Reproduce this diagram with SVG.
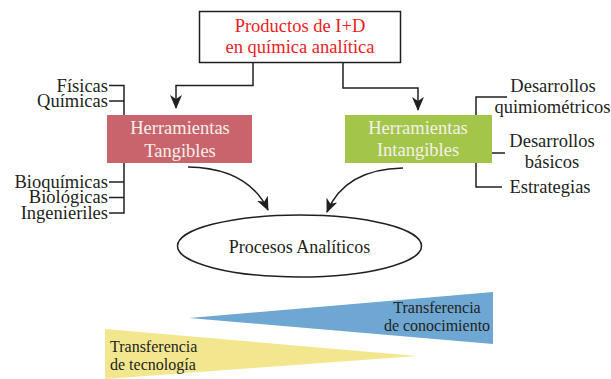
<svg xmlns="http://www.w3.org/2000/svg" width="611" height="379" viewBox="0 0 611 379">
<defs>
<marker id="ah" viewBox="0 0 14 12" refX="13" refY="6" markerWidth="14" markerHeight="12" markerUnits="userSpaceOnUse" orient="auto">
<path d="M0,0 L14,6 L0,12 L4,6 Z" fill="#231f20"/>
</marker>
</defs>
<style>
.ln{fill:none;stroke:#231f20;stroke-width:1.5;}
</style>
<rect width="611" height="379" fill="#ffffff"/>
<g id="connectors">
<path class="ln" d="M253,62 V85.5 H176 V108" marker-end="url(#ah)"/>
<path class="ln" d="M343,62 V88 H418 V110" marker-end="url(#ah)"/>
<path class="ln" d="M188,167 Q248,168 268,210" marker-end="url(#ah)"/>
<path class="ln" d="M403,168 Q345,169 327,212" marker-end="url(#ah)"/>
<path class="ln" d="M109,85.5 H124 V213 H109 M109,101 H124 M109,182 H124 M109,197.5 H124"/>
<path class="ln" d="M507,97 H476 V187 H502 M492,153 H505"/>
</g>
<g font-family="'Liberation Serif', 'Times New Roman', serif" font-size="18.5">
<g id="productos">
<rect x="199.5" y="11.5" width="201" height="51" fill="#ffffff" stroke="#231f20" stroke-width="1.5"/>
<text fill="#ed1c24" text-anchor="middle" x="300" y="32">Productos de I+D</text>
<text fill="#ed1c24" text-anchor="middle" x="300" y="53">en química analítica</text>
</g>
<g id="tangibles">
<rect x="107" y="115" width="145" height="48" fill="#c9646c"/>
<text fill="#f5f0ea" text-anchor="middle" x="180" y="134">Herramientas</text>
<text fill="#f5f0ea" text-anchor="middle" x="180" y="157">Tangibles</text>
</g>
<g id="intangibles">
<rect x="345" y="115" width="147" height="48" fill="#a3c64a"/>
<text fill="#f5f0ea" text-anchor="middle" x="418" y="134">Herramientas</text>
<text fill="#f5f0ea" text-anchor="middle" x="418" y="156">Intangibles</text>
</g>
<g id="left-labels" text-anchor="end" fill="#231f20">
<text x="108" y="91.5">Físicas</text>
<text x="108" y="107">Químicas</text>
<text x="108" y="187.5">Bioquímicas</text>
<text x="108" y="203">Biológicas</text>
<text x="108" y="218.5">Ingenieriles</text>
</g>
<g id="right-labels" text-anchor="middle" fill="#231f20">
<text x="553" y="92">Desarrollos</text>
<text x="552.5" y="113">quimiométricos</text>
<text x="552" y="147">Desarrollos</text>
<text x="552" y="168">básicos</text>
<text x="550" y="193">Estrategias</text>
</g>
<g id="procesos">
<ellipse cx="299.5" cy="246" rx="122" ry="31" fill="#ffffff" stroke="#231f20" stroke-width="1.5"/>
<text fill="#231f20" x="299.5" y="253" text-anchor="middle" font-size="18">Procesos Analíticos</text>
</g>
<g id="conocimiento" font-size="16" fill="#231f20">
<polygon points="189,318 493,292 493,344" fill="#6ea8d2"/>
<text x="437" y="313" text-anchor="middle">Transferencia</text>
<text x="437" y="331" text-anchor="middle">de conocimiento</text>
</g>
<g id="tecnologia" font-size="16" fill="#231f20">
<polygon points="105,329 417,356 105,379" fill="#f2e78f"/>
<text x="110" y="352">Transferencia</text>
<text x="110" y="370">de tecnología</text>
</g>
</g>
</svg>
